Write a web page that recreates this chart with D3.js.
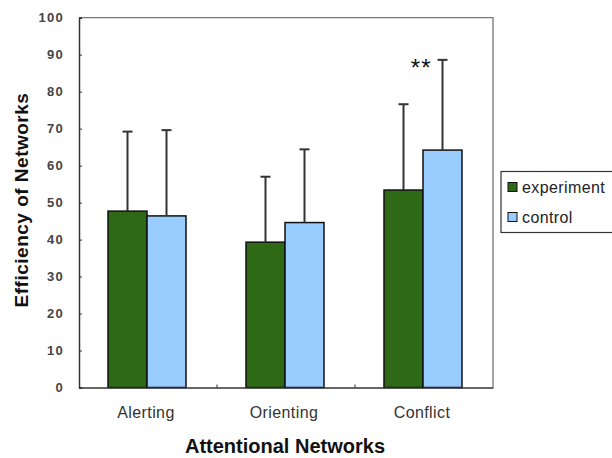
<!DOCTYPE html>
<html>
<head>
<meta charset="utf-8">
<script src="https://cdn.jsdelivr.net/npm/d3@7"></script>
<style>
  body { margin: 0; background: #fff; }
  svg { display: block; font-family: Arial, "Liberation Sans", sans-serif; }
</style>
</head>
<body>
<svg id="chart"></svg>
<script>
  // attentional network efficiency, experiment vs control
  const categories = ["Alerting", "Orienting", "Conflict"];
  const series = ["experiment", "control"];
  const experimentMeans = [47.7, 39.3, 53.4];
  const controlMeans = [46.4, 44.6, 64.2];
  const experimentUpper = [69.2, 57.0, 76.6];
  const controlUpper = [69.6, 64.4, 88.6];
  const yTicks = [0, 10, 20, 30, 40, 50, 60, 70, 80, 90, 100];
  const colors = ["#2e6a16", "#99ccff"];

  const rows = categories.flatMap((c, i) => [
    { cat: c, key: "experiment", value: experimentMeans[i], upper: experimentUpper[i] },
    { cat: c, key: "control", value: controlMeans[i], upper: controlUpper[i] },
  ]);

  const width = 612;
  const height = 458;
  const plotLeft = 79, plotRight = 493, plotTop = 17.7, plotBottom = 387.5;

  const svg = d3.select("#chart").attr("width", width).attr("height", height);

  const x0 = d3.scaleBand(categories, [plotLeft, plotRight]);
  const x1 = d3.scaleBand(series, [-40, 38]);
  const y = d3.scaleLinear([0, 100], [plotBottom, plotTop]);
  const color = d3.scaleOrdinal(series, colors);

  const cx = (d) => x0(d.cat) + x0.bandwidth() / 2 + x1(d.key);

  // frame
  svg.append("path")
    .attr("d", `M${plotLeft},${plotTop}H${plotRight}V${plotBottom}`)
    .attr("fill", "none")
    .attr("stroke", "#777")
    .attr("stroke-width", 1.3);

  // bars
  svg.append("g")
    .selectAll("rect")
    .data(rows)
    .join("rect")
    .attr("x", cx)
    .attr("y", (d) => y(d.value))
    .attr("width", x1.bandwidth())
    .attr("height", (d) => y(0) - y(d.value))
    .attr("fill", (d) => color(d.key))
    .attr("stroke", "#111")
    .attr("stroke-width", 1.5);

  // upper error bars
  const err = svg.append("g")
    .attr("stroke", "#333")
    .attr("stroke-width", 2)
    .selectAll("g")
    .data(rows)
    .join("g")
    .attr("transform", (d) => `translate(${cx(d) + x1.bandwidth() / 2},0)`);
  err.append("line")
    .attr("y1", (d) => y(d.value))
    .attr("y2", (d) => y(d.upper));
  err.append("line")
    .attr("x1", -5)
    .attr("x2", 5)
    .attr("y1", (d) => y(d.upper))
    .attr("y2", (d) => y(d.upper));

  // significance mark
  const sig = rows.find((d) => d.cat === "Conflict" && d.key === "control");
  svg.append("text")
    .attr("x", cx(sig) + x1.bandwidth() / 2 - 11)
    .attr("y", y(sig.upper) + 16)
    .attr("text-anchor", "end")
    .attr("font-size", 24)
    .attr("letter-spacing", 1)
    .attr("fill", "#111")
    .text("**");

  // y axis
  svg.append("g")
    .attr("transform", `translate(${plotLeft},0)`)
    .call(d3.axisRight(y).tickValues(yTicks).tickSize(3).tickFormat(() => ""))
    .call((g) => g.select(".domain").attr("stroke", "#333").attr("stroke-width", 1.5))
    .call((g) => g.selectAll(".tick line").attr("stroke", "#333"));

  svg.append("g")
    .selectAll("text")
    .data(yTicks)
    .join("text")
    .attr("x", 64)
    .attr("y", (d) => y(d))
    .attr("dy", "0.36em")
    .attr("text-anchor", "end")
    .attr("font-size", 13)
    .attr("font-weight", "bold")
    .attr("letter-spacing", 1.3)
    .attr("fill", "#444")
    .text((d) => d);

  // x axis
  svg.append("g")
    .attr("transform", `translate(0,${plotBottom})`)
    .call(d3.axisTop(x0).tickSize(0).tickFormat(() => ""))
    .call((g) => g.select(".domain").attr("stroke", "#333").attr("stroke-width", 1.5));

  svg.append("g")
    .attr("stroke", "#333")
    .selectAll("line")
    .data(categories.slice(1))
    .join("line")
    .attr("x1", (d) => x0(d))
    .attr("x2", (d) => x0(d))
    .attr("y1", plotBottom)
    .attr("y2", plotBottom - 3);

  svg.append("g")
    .selectAll("text")
    .data(categories)
    .join("text")
    .attr("x", (d) => x0(d) + x0.bandwidth() / 2 - 2)
    .attr("y", 418)
    .attr("text-anchor", "middle")
    .attr("font-size", 16)
    .attr("letter-spacing", 0.4)
    .attr("fill", "#333")
    .text((d) => d);

  // axis titles
  svg.append("text")
    .attr("x", 285)
    .attr("y", 453)
    .attr("text-anchor", "middle")
    .attr("font-size", 20)
    .attr("font-weight", "bold")
    .attr("fill", "#111")
    .text("Attentional Networks");

  svg.append("text")
    .attr("transform", "translate(28,200) rotate(-90)")
    .attr("text-anchor", "middle")
    .attr("font-size", 19)
    .attr("font-weight", "bold")
    .attr("letter-spacing", 0.5)
    .attr("fill", "#111")
    .text("Efficiency of Networks");

  // legend
  const legend = svg.append("g");
  legend.append("rect")
    .attr("x", 501)
    .attr("y", 171.5)
    .attr("width", 120)
    .attr("height", 61)
    .attr("fill", "#fff")
    .attr("stroke", "#333")
    .attr("stroke-width", 1.2);
  const item = legend.selectAll("g")
    .data(series)
    .join("g")
    .attr("transform", (d, i) => `translate(508,${187 + i * 30})`);
  item.append("rect")
    .attr("y", -4.5)
    .attr("width", 9)
    .attr("height", 9)
    .attr("fill", (d) => color(d))
    .attr("stroke", "#111");
  item.append("text")
    .attr("x", 14)
    .attr("dy", "0.35em")
    .attr("font-size", 16)
    .attr("letter-spacing", 0.4)
    .attr("fill", "#222")
    .text((d) => d);
</script>
</body>
</html>
